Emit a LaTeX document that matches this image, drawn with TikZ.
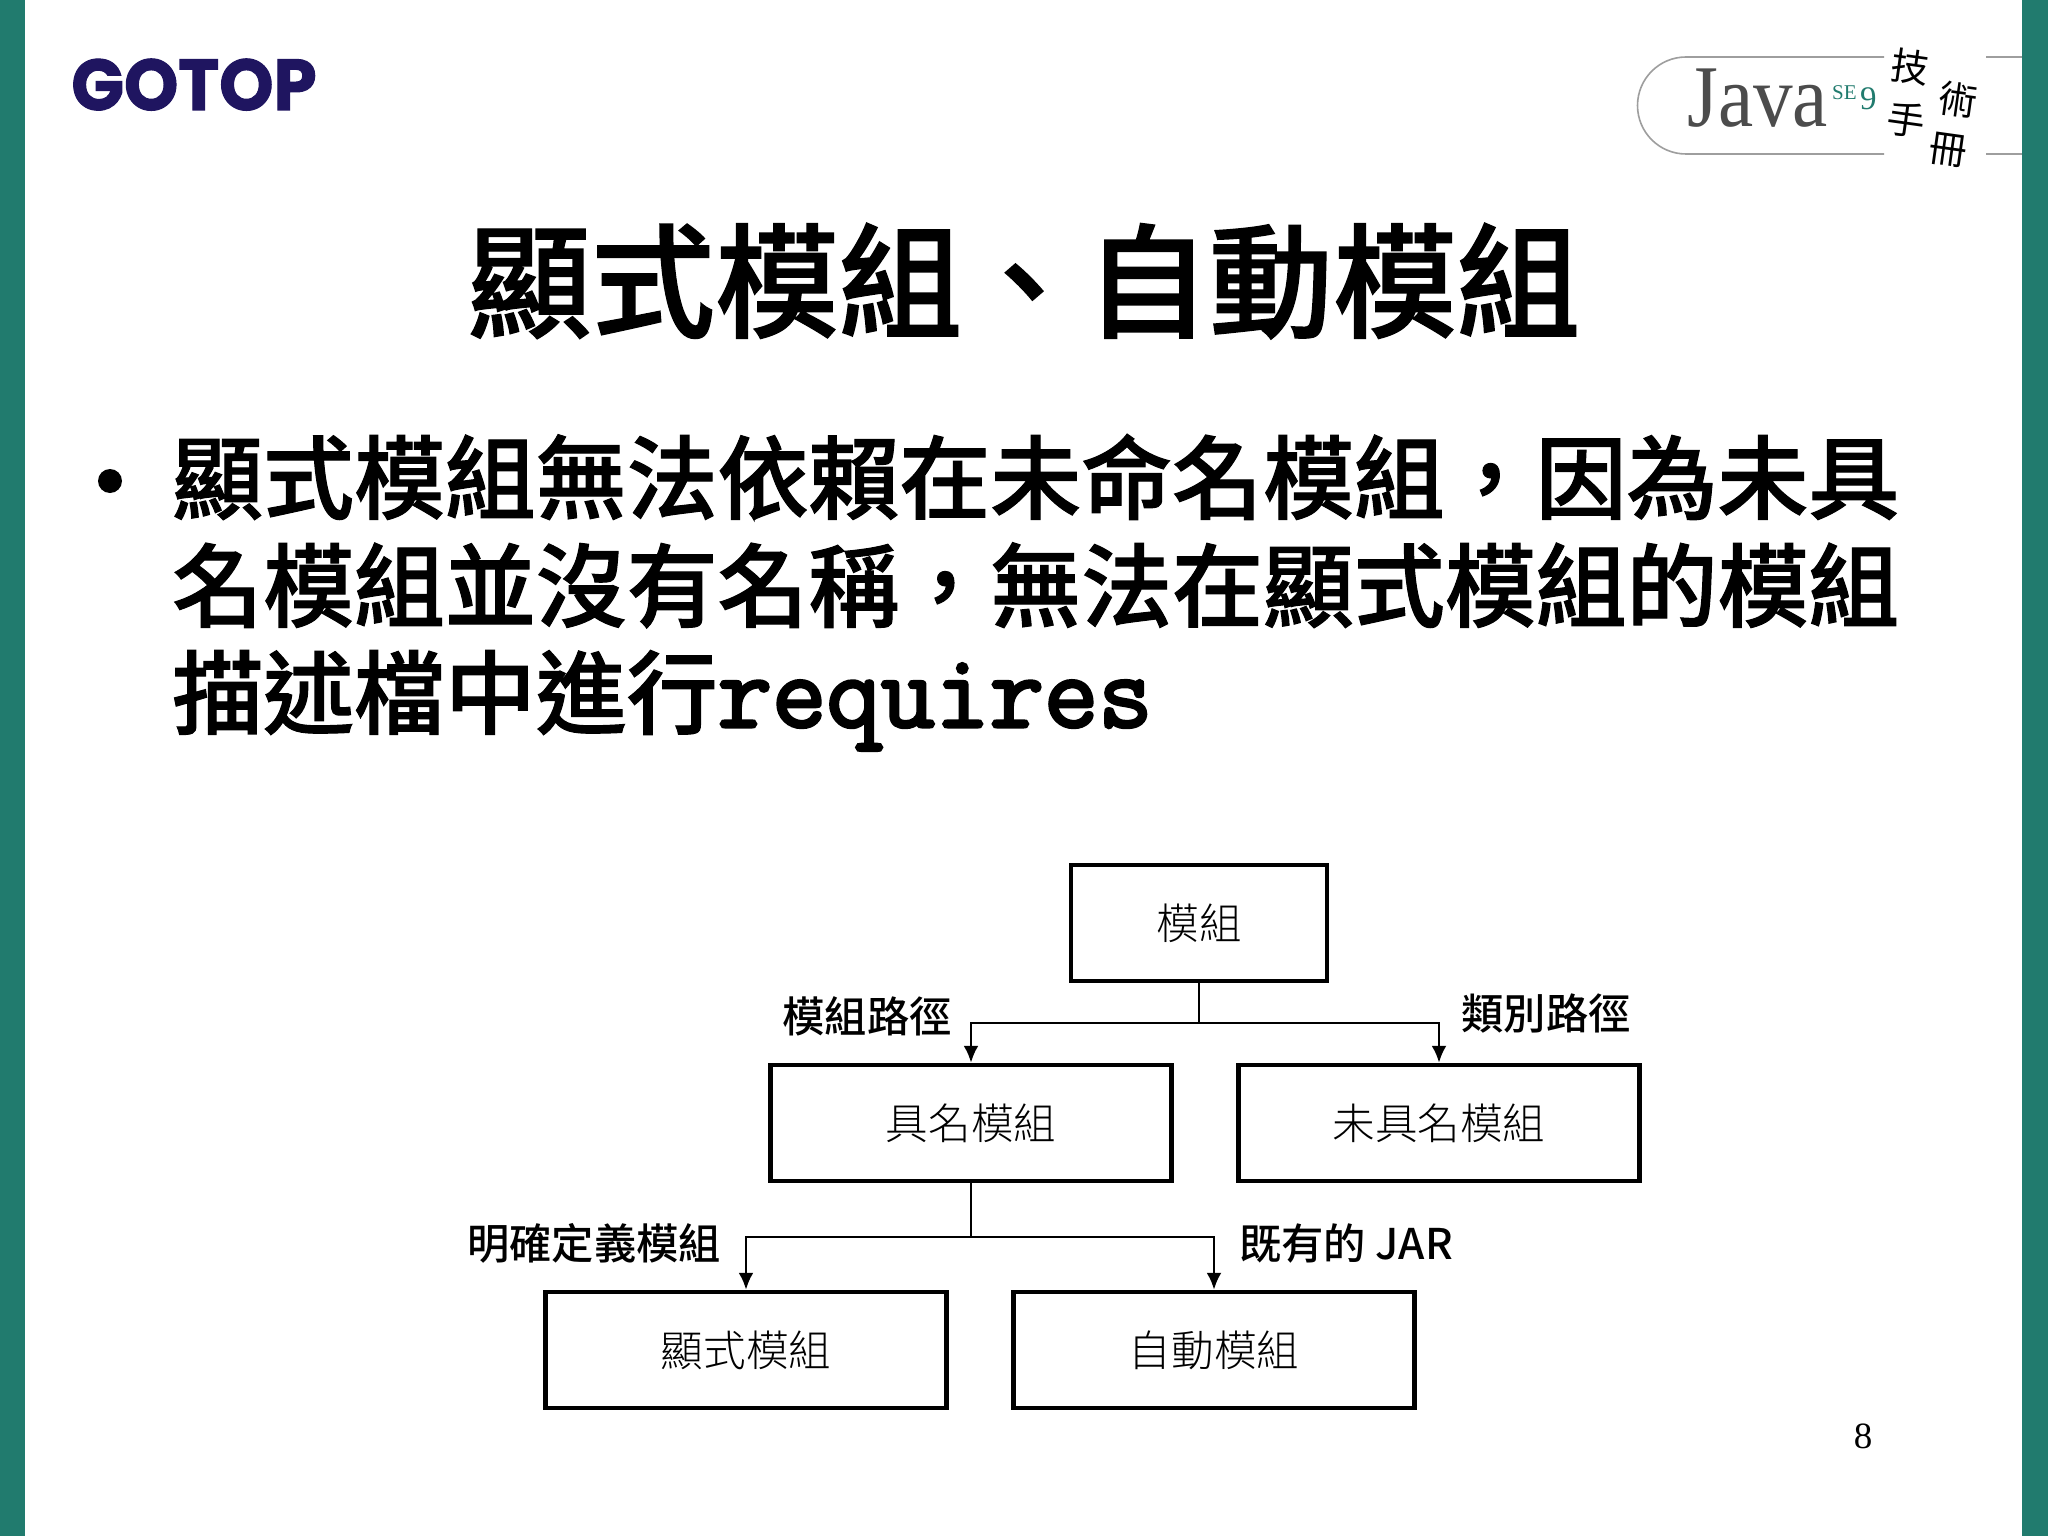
\documentclass[tikz,border=0pt]{standalone}
\usepackage{fontspec}
\setmainfont{Noto Sans CJK TC}
\newfontfamily\cjklight{Noto Sans CJK TC Light}
\newfontfamily\cjkmed{Noto Sans CJK TC Medium}
\newfontfamily\cjkheavy{Noto Sans CJK TC Medium}[FakeBold=1.2]
\newfontfamily\monoheavy{Latin Modern Mono}[FakeBold=3]
\newfontfamily\serifjava{Liberation Serif}
\newfontfamily\logofont{Poppins}[BoldFeatures={FakeBold=1.5}]
\usetikzlibrary{arrows.meta}
\definecolor{bar}{HTML}{217B6E}
\definecolor{navy}{HTML}{1F1560}
\newcommand{\fs}[1]{\fontsize{#1}{#1}\selectfont}
\newcommand{\wcomma}{\char"FF0C\relax}
\tikzset{
  x=1pt,y=-1pt,
  modbox/.style={draw=black,line width=4.4pt,minimum width=401pt,minimum height=116pt,inner sep=0pt,
    font=\cjklight\fs{42.6},text height=37.5pt,text depth=5pt},
  link/.style={draw=black,line width=2.8pt},
  arrow/.style={link,-{Latex[length=17pt,width=15pt]}},
  pathlabel/.style={inner sep=0pt,anchor=base,font=\cjkmed\fs{42.3}},
  bodyline/.style={inner sep=0pt,anchor=base west,font=\cjkheavy\fs{90.9}},
  pill/.style={draw=black!38,line width=1.6pt},
  hand/.style={inner sep=0pt,font=\fs{38},black}
}
\begin{document}
\begin{tikzpicture}
\useasboundingbox (0,0) rectangle (2048,1536);
\fill[white] (0,0) rectangle (2048,1536);
\fill[bar] (0,0) rectangle (25,1536);
\fill[bar] (2022,0) rectangle (2048,1536);

% logo GOTOP
\node[inner sep=0pt,anchor=base,text=navy,font=\logofont\bfseries\fs{72},xscale=.96] (gotop) at (194,110) {GOTOP};

% Java logo
\coordinate (pa) at (1884,57);
\coordinate (pb) at (1884,154);
\draw[pill] (pa) -- (1686,57) arc[start angle=-90,end angle=-270,radius=48.5] -- (pb);
\draw[pill] (1986,57) -- (2022,57);
\draw[pill] (1986,154) -- (2022,154);
\node[inner sep=0pt,anchor=base west,text=black!70,font=\serifjava\fs{88},xscale=.9] (java) at (1687,127) {Java};
\node[inner sep=0pt,anchor=base west,text=bar,font=\serifjava\fs{21}] (se) at (1832,100) {SE};
\node[inner sep=0pt,anchor=base west,text=bar,font=\serifjava\fs{33}] (nine) at (1860,110) {9};
\node[hand,rotate=-8] (h1) at (1910,67) {技};
\node[hand,rotate=-8] (h2) at (1958,100) {術};
\node[hand,rotate=-8] (h3) at (1906,120) {手};
\node[hand,rotate=-8] (h4) at (1948,150) {冊};

% title
\node[inner sep=0pt,anchor=base,font=\cjkheavy\fs{123.6}] (title) at (1024,328) {顯式模組、自動模組};

% bullet
\node[circle,fill=black,minimum size=24pt,inner sep=0pt] (bullet) at (110,481) {};
\node[bodyline] (l1) at (172,512) {顯式模組無法依賴在未命名模組\wcomma 因為未具};
\node[bodyline] (l2) at (172,620) {名模組並沒有名稱\wcomma 無法在顯式模組的模組};
\node[bodyline] (l3) at (172,727) {描述檔中進行{\monoheavy\fs{105.6}requires}};

% diagram
\node[modbox,minimum width=256pt] (mod) at (1199,923) {模組};
\node[modbox] (named) at (971,1123) {具名模組};
\node[modbox] (unnamed) at (1439,1123) {未具名模組};
\node[modbox] (explicit) at (746,1350) {顯式模組};
\node[modbox] (auto) at (1214,1350) {自動模組};

\coordinate (j1) at (mod.south |- 0,1023);
\coordinate (j2) at (named.south |- 0,1237);
\draw[link] (mod.south) -- (j1);
\draw[arrow] (j1) -| (named.north);
\draw[arrow] (j1) -| (unnamed.north);
\draw[link] (named.south) -- (j2);
\draw[arrow] (j2) -| (explicit.north);
\draw[arrow] (j2) -| (auto.north);

\node[pathlabel] (p1) at (867,1032) {模組路徑};
\node[pathlabel] (p2) at (1546,1029) {類別路徑};
\node[pathlabel] (p3) at (594,1259) {明確定義模組};
\node[pathlabel] (p4) at (1346,1259) {既有的 JAR};

\node[inner sep=0pt,font=\serifjava\fs{37}] (page) at (1863,1436) {8};
\end{tikzpicture}
\end{document}
